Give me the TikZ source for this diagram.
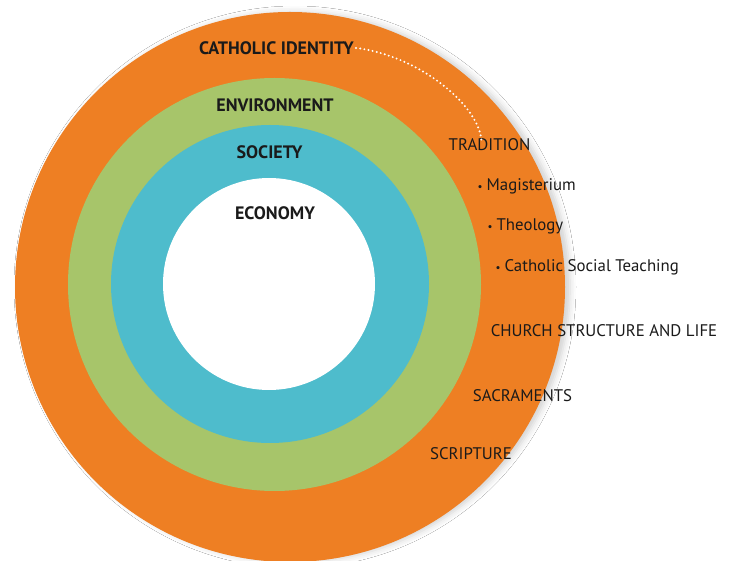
\documentclass[tikz,border=0pt]{standalone}
\usepackage{fontspec}
\setmainfont{PT Sans}
\usetikzlibrary{shadows.blur}
\definecolor{ringorange}{RGB}{238,127,35}
\definecolor{ringgreen}{RGB}{167,197,106}
\definecolor{ringteal}{RGB}{78,188,204}
\definecolor{inktext}{RGB}{26,26,26}
\tikzset{
  layerlabel/.style={font=\bfseries\fontsize{18}{18}\selectfont, text=inktext, inner sep=0pt},
  sidelabel/.style={font=\fontsize{16.8}{17}\selectfont, text=inktext, inner sep=0pt},
  bulletlabel/.style={sidelabel, anchor=west},
  dotline/.style={white, line width=2.2pt, line cap=round, dash pattern=on 0pt off 4.2pt}
}
\newcommand{\bul}{{\fontsize{11}{11}\selectfont\textbullet}\hspace{4pt}}
\begin{document}
\begin{tikzpicture}[x=1pt,y=-1pt]
\useasboundingbox (0,0) rectangle (729,561);
\clip (0,0) rectangle (729,561);
\fill[white] (0,0) rectangle (729,561);
% rings
\fill[ringorange, blur shadow={shadow xshift=5pt, shadow yshift=0pt, shadow blur radius=6pt, shadow opacity=18}] (290,287) circle (275pt);
\fill[ringgreen] (274.5,284.5) circle (206.5pt);
\fill[ringteal] (270,284) circle (159pt);
\fill[white] (269,284) circle (106pt);
% layer labels
\node[layerlabel] (ci) at (276.5,48) {CATHOLIC IDENTITY};
\node[layerlabel] (env) at (275,105) {ENVIRONMENT};
\node[layerlabel] (soc) at (269.5,152) {SOCIETY};
\node[layerlabel] (eco) at (275,213) {ECONOMY};
% side labels
\node[sidelabel] (trad) at (489.5,145) {TRADITION};
\node[bulletlabel] (mag) at (477.5,186) {\bul Magisterium};
\node[bulletlabel] (theo) at (487.5,226) {\bul Theology};
\node[bulletlabel] (cst) at (495.5,267) {\bul Catholic Social Teaching};
\node[sidelabel] (csl) at (604,331) {CHURCH STRUCTURE AND LIFE};
\node[sidelabel] (sac) at (522.5,396) {SACRAMENTS};
\node[sidelabel] (scr) at (471,454) {SCRIPTURE};
% dotted connector
\draw[dotline] ([xshift=2pt]ci.east) .. controls +(65,8) and +(0,-35) .. ([xshift=-8pt,yshift=-4pt]trad.north);
\end{tikzpicture}
\end{document}
